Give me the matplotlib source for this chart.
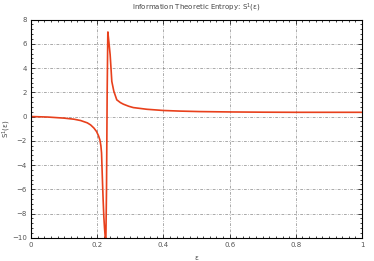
import matplotlib
matplotlib.use("Agg")
import matplotlib.pyplot as plt
from matplotlib.ticker import MultipleLocator

eps = [0.0, 0.05, 0.1, 0.13, 0.15, 0.17, 0.18, 0.19, 0.198, 0.204, 0.208, 0.211, 0.213, 0.216,
       0.218, 0.22, 0.222, 0.224, 0.226, 0.228, 0.23, 0.232, 0.235, 0.239, 0.242, 0.244,
       0.25, 0.259, 0.27, 0.279, 0.295, 0.309, 0.35, 0.4, 0.45, 0.51, 0.6, 0.7, 0.8, 0.9, 1.0]
S1 = [0.0, -0.04, -0.13, -0.22, -0.33, -0.52, -0.69, -0.95, -1.24, -1.6, -1.93, -2.4, -3.0, -5.5,
      -7.0, -8.3, -9.2, -9.9, -10.3, -6.0, 2.0, 7.0, 6.2, 5.1, 3.8, 2.9,
      2.1, 1.38, 1.15, 1.02, 0.85, 0.74, 0.6, 0.5, 0.45, 0.41, 0.38, 0.36, 0.35, 0.35, 0.35]

title = "Information Theoretic Entropy: S$^1$(ε)"
xlabel = "ε"
ylabel = "S$^1$(ε)"

plt.rcParams['font.family'] = ['DejaVu Sans']
fig = plt.figure(figsize=(3.74, 2.61), dpi=100)
ax = fig.add_axes([0.083, 0.089, 0.885, 0.836])
ax.plot(eps, S1, color='#E8401C', lw=1.2, solid_joinstyle='miter')
ax.set_xlim(0, 1)
ax.set_ylim(-10, 8)
ax.xaxis.set_minor_locator(MultipleLocator(0.02))
ax.yaxis.set_major_locator(MultipleLocator(2))
ax.yaxis.set_minor_locator(MultipleLocator(0.4))
ax.set_xticks([0, 0.2, 0.4, 0.6, 0.8, 1.0])
ax.set_xticklabels(['0', '0.2', '0.4', '0.6', '0.8', '1'])
ax.tick_params(which='both', direction='in', top=True, right=True, labelsize=5,
               colors='#222222', labelcolor='#555555', width=0.6, pad=3)
ax.tick_params(which='major', length=3)
ax.tick_params(which='minor', length=1.5)
ax.grid(True, which='major', color='#888888', ls=(0, (4, 2, 1, 2)), lw=0.5)
for s in ax.spines.values():
    s.set_linewidth(0.8)
ax.set_title(title, fontsize=5, color='#444444', pad=7)
ax.set_xlabel(xlabel, fontsize=5, color='#444444', labelpad=5)
ax.set_ylabel(ylabel, fontsize=5, color='#444444')
ax.yaxis.set_label_coords(-0.054, 0.5)
fig.savefig('out.png', dpi=100)
